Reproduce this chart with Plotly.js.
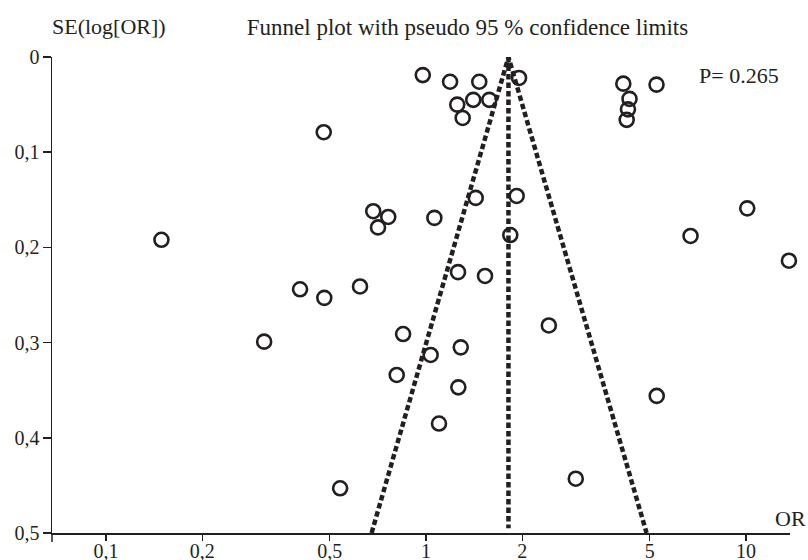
<!DOCTYPE html>
<html>
<head>
<meta charset="utf-8">
<script src="https://cdn.plot.ly/plotly-3.0.1.min.js"></script>
<style>
  html, body { margin: 0; padding: 0; background: #fff; }
  #chart { width: 808px; height: 560px; }
</style>
</head>
<body>
<div id="chart"></div>
<script>
// Study odds ratios (x) and their standard errors of log(OR) (y)
const orValues = [
  0.977, 1.189, 1.467, 1.252, 1.405, 1.577, 1.302, 1.953,
  4.136, 4.325, 4.277, 4.238, 5.253,
  0.479, 0.149, 0.684, 0.762, 0.708,
  1.062, 1.430, 1.920, 1.834, 6.71, 10.09, 13.62,
  0.404, 0.481, 0.622, 1.259, 1.529,
  0.312, 0.848, 1.034, 1.284, 2.42,
  0.810, 1.262, 1.098, 5.26, 2.938, 0.539
];
const seValues = [
  0.019, 0.026, 0.026, 0.050, 0.045, 0.045, 0.064, 0.022,
  0.028, 0.044, 0.055, 0.066, 0.029,
  0.079, 0.192, 0.162, 0.168, 0.179,
  0.169, 0.148, 0.146, 0.187, 0.188, 0.159, 0.214,
  0.244, 0.253, 0.241, 0.226, 0.230,
  0.299, 0.291, 0.313, 0.305, 0.282,
  0.334, 0.347, 0.385, 0.356, 0.443, 0.453
];
// Pseudo 95 % confidence limits
const pooledOR = 1.81;
const limitLowOR = 0.676;
const limitHighOR = 4.89;
const seMax = 0.5;
const pValueText = 'P= 0.265';

const xTickVals = [0.1, 0.2, 0.5, 1, 2, 5, 10];
const xTickText = ['0,1', '0,2', '0,5', '1', '2', '5', '10'];
const yTickVals = [0, 0.1, 0.2, 0.3, 0.4, 0.5];
const yTickText = ['0', '0,1', '0,2', '0,3', '0,4', '0,5'];

const ink = '#231f20';
const serif = 'Liberation Serif, Times New Roman, serif';

const traces = [
  {
    type: 'scatter', mode: 'lines',
    x: [limitLowOR, pooledOR, limitHighOR],
    y: [seMax, 0, seMax],
    line: { color: ink, width: 4.5, dash: '5.5px,3px' },
    hoverinfo: 'skip', cliponaxis: false
  },
  {
    type: 'scatter', mode: 'lines',
    x: [pooledOR, pooledOR],
    y: [0, seMax * 0.99],
    line: { color: ink, width: 4.5, dash: '5.5px,3px' },
    hoverinfo: 'skip', cliponaxis: false
  },
  {
    type: 'scatter', mode: 'markers',
    x: orValues, y: seValues,
    marker: { symbol: 'circle-open', size: 14, color: ink, line: { color: ink, width: 2.6 } },
    cliponaxis: false
  }
];

const layout = {
  width: 808, height: 560,
  margin: { l: 52, r: 18, t: 57, b: 27 },
  paper_bgcolor: '#ffffff', plot_bgcolor: '#ffffff',
  showlegend: false,
  font: { family: serif, size: 20, color: ink },
  title: {
    text: 'Funnel plot with pseudo 95 % confidence limits',
    font: { family: serif, size: 23, color: ink },
    x: 0.5786, xanchor: 'center', xref: 'container',
    y: 1 - 27 / 560, yanchor: 'middle', yref: 'container'
  },
  xaxis: {
    type: 'log',
    range: [-1.1688, 1.1375],
    tickmode: 'array', tickvals: xTickVals, ticktext: xTickText,
    showline: true, linecolor: ink, linewidth: 1.5,
    ticks: 'outside', ticklen: 6, tickwidth: 1.5, tickcolor: ink,
    ticklabelstandoff: -7,
    showgrid: false, zeroline: false,
    tickfont: { family: serif, size: 20, color: ink }
  },
  yaxis: {
    range: [0.5, 0],
    tickmode: 'array', tickvals: yTickVals, ticktext: yTickText,
    showline: true, linecolor: ink, linewidth: 1.5,
    ticks: 'outside', ticklen: 8, tickwidth: 1.5, tickcolor: ink,
    ticklabelstandoff: -1,
    showgrid: false, zeroline: false,
    tickfont: { family: serif, size: 20, color: ink }
  },
  shapes: [
    { type: 'line', xref: 'paper', yref: 'paper', ysizemode: 'pixel', yanchor: 0,
      x0: 0, x1: 0, y0: 0, y1: -9, line: { color: ink, width: 1.5 } }
  ],
  annotations: [
    { text: 'SE(log[OR])', xref: 'paper', yref: 'paper',
      x: -2 / 738, xanchor: 'left', y: 1 + 31 / 476, yanchor: 'middle',
      showarrow: false, font: { family: serif, size: 22, color: ink } },
    { text: pValueText, xref: 'paper', yref: 'paper',
      x: (697 - 52) / 738, xanchor: 'left', y: 1 - 19 / 476, yanchor: 'middle',
      showarrow: false, font: { family: serif, size: 22, color: ink } },
    { text: 'OR', xref: 'paper', yref: 'paper',
      x: (773 - 52) / 738, xanchor: 'left', y: 15 / 476, yanchor: 'middle',
      showarrow: false, font: { family: serif, size: 22, color: ink } }
  ]
};

Plotly.newPlot('chart', traces, layout, { displayModeBar: false, staticPlot: true });
</script>
</body>
</html>
